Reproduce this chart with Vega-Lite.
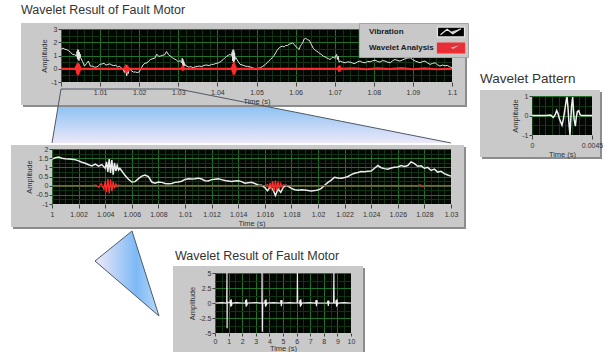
{
  "$schema": "https://vega.github.io/schema/vega-lite/v6.json",
  "padding": 0,
  "background": "white",
  "config": {
    "view": {"stroke": null},
    "font": "Liberation Sans",
    "axis": {"domain": false, "labelFontSize": 7, "labelColor": "#333333", "tickColor": "#444444", "tickSize": 3, "titleFontSize": 7.5, "titleFontWeight": "normal", "titleColor": "#333333", "labelFlush": false, "labelBound": false, "gridWidth": 1},
    "title": {"fontWeight": "normal", "color": "#333333", "anchor": "start", "frame": "group", "font": "Liberation Sans"}
  },
  "datasets": {
    "one": [{}],
    "topVib": [
      {"time":1,"amp":1.45},{"time":1.0005,"amp":1.56},{"time":1.001,"amp":1.47},{"time":1.0015,"amp":1.44},{"time":1.002,"amp":1.35},{"time":1.0025,"amp":1.22},{"time":1.003,"amp":1.08},{"time":1.0035,"amp":1.06},{"time":1.004,"amp":0.95},{"time":1.0041,"amp":1.3},{"time":1.0042,"amp":0.75},{"time":1.0043,"amp":1.45},{"time":1.0044,"amp":0.7},{"time":1.0045,"amp":1.4},{"time":1.0046,"amp":0.6},{"time":1.0047,"amp":1.25},{"time":1.0048,"amp":0.8},{"time":1.0049,"amp":1.1},{"time":1.005,"amp":0.85},{"time":1.0055,"amp":0.55},{"time":1.006,"amp":0.2},{"time":1.0065,"amp":0.38},{"time":1.007,"amp":0.58},{"time":1.0075,"amp":0.2},{"time":1.008,"amp":0.2},{"time":1.0085,"amp":0.12},{"time":1.009,"amp":0.12},{"time":1.0095,"amp":0.2},{"time":1.01,"amp":0.34},{"time":1.0105,"amp":0.36},{"time":1.011,"amp":0.41},{"time":1.0115,"amp":0.27},{"time":1.012,"amp":0.33},{"time":1.0125,"amp":0.37},{"time":1.013,"amp":0.28},{"time":1.0135,"amp":0.23},{"time":1.014,"amp":0.27},{"time":1.0145,"amp":0.13},{"time":1.015,"amp":0.19},{"time":1.0155,"amp":0.04},{"time":1.016,"amp":-0.1},{"time":1.0162,"amp":-0.28},{"time":1.0164,"amp":-0.08},{"time":1.0166,"amp":-0.2},{"time":1.0168,"amp":-0.54},{"time":1.017,"amp":-0.18},{"time":1.0172,"amp":-0.36},{"time":1.0174,"amp":-0.08},{"time":1.0176,"amp":0.02},{"time":1.018,"amp":-0.15},{"time":1.0185,"amp":-0.25},{"time":1.019,"amp":-0.24},{"time":1.0195,"amp":-0.29},{"time":1.02,"amp":-0.24},{"time":1.0205,"amp":0.02},{"time":1.021,"amp":0.3},{"time":1.0215,"amp":0.42},{"time":1.022,"amp":0.44},{"time":1.0225,"amp":0.6},{"time":1.023,"amp":0.72},{"time":1.0235,"amp":0.76},{"time":1.024,"amp":0.8},{"time":1.0245,"amp":1.1},{"time":1.025,"amp":0.93},{"time":1.0255,"amp":0.96},{"time":1.026,"amp":1.02},{"time":1.0265,"amp":1.05},{"time":1.027,"amp":1.3},{"time":1.0275,"amp":1.06},{"time":1.028,"amp":0.95},{"time":1.0285,"amp":0.83},{"time":1.029,"amp":0.74},{"time":1.0295,"amp":0.66},{"time":1.03,"amp":0.52},
      {"time":1.0305,"amp":0.62},{"time":1.0309,"amp":0.45},{"time":1.031,"amp":0.8},{"time":1.0311,"amp":0.15},{"time":1.0312,"amp":0.7},{"time":1.0313,"amp":0.05},{"time":1.0314,"amp":0.55},{"time":1.0315,"amp":0.2},{"time":1.0316,"amp":0.4},{"time":1.0318,"amp":0.25},{"time":1.0322,"amp":0.2},{"time":1.0327,"amp":0.12},{"time":1.0332,"amp":0.16},{"time":1.0338,"amp":0.08},{"time":1.0343,"amp":0.14},{"time":1.0349,"amp":0.18},{"time":1.0355,"amp":0.2},{"time":1.036,"amp":0.16},{"time":1.0366,"amp":0.26},{"time":1.0373,"amp":0.28},{"time":1.0379,"amp":0.24},{"time":1.0385,"amp":0.33},{"time":1.039,"amp":0.33},{"time":1.0396,"amp":0.4},{"time":1.0403,"amp":0.45},{"time":1.0409,"amp":0.55},{"time":1.0415,"amp":0.7},{"time":1.042,"amp":0.85},{"time":1.0424,"amp":0.95},{"time":1.0428,"amp":1.02},{"time":1.0432,"amp":1.08},{"time":1.0436,"amp":1.0},{"time":1.0438,"amp":1.3},{"time":1.0439,"amp":0.6},{"time":1.044,"amp":1.45},{"time":1.0441,"amp":0.45},{"time":1.0442,"amp":1.4},{"time":1.0443,"amp":0.55},{"time":1.0444,"amp":1.2},{"time":1.0445,"amp":0.7},{"time":1.0447,"amp":0.85},{"time":1.045,"amp":0.7},{"time":1.0454,"amp":0.5},{"time":1.0458,"amp":0.33},{"time":1.0464,"amp":0.28},{"time":1.0471,"amp":0.2},{"time":1.0477,"amp":0.18},{"time":1.0484,"amp":0.13},{"time":1.049,"amp":0.08},{"time":1.0497,"amp":-0.05},{"time":1.0503,"amp":0.02},{"time":1.051,"amp":0.08},{"time":1.0516,"amp":0.18},{"time":1.0523,"amp":0.33},{"time":1.0527,"amp":0.45},{"time":1.0531,"amp":0.58},{"time":1.0536,"amp":0.7},{"time":1.054,"amp":0.83},{"time":1.0545,"amp":1.0},{"time":1.0549,"amp":1.2},{"time":1.0553,"amp":1.4},{"time":1.0558,"amp":1.58},{"time":1.0562,"amp":1.66},{"time":1.0566,"amp":1.7},{"time":1.0571,"amp":1.65},{"time":1.0575,"amp":1.76},{"time":1.0579,"amp":1.75},{"time":1.0583,"amp":1.85},{"time":1.0588,"amp":1.9},{"time":1.0592,"amp":1.95},{"time":1.0596,"amp":1.85},{"time":1.06,"amp":1.7},{"time":1.0605,"amp":1.55},{"time":1.0609,"amp":1.45},{"time":1.0612,"amp":1.7},{"time":1.0615,"amp":1.83},{"time":1.0618,"amp":1.95},{"time":1.0622,"amp":2.25},{"time":1.0626,"amp":2.3},{"time":1.063,"amp":2.2},{"time":1.0635,"amp":2.15},{"time":1.064,"amp":1.85},{"time":1.0645,"amp":1.55},{"time":1.065,"amp":1.4},{"time":1.0654,"amp":1.33},{"time":1.0658,"amp":1.25},{"time":1.0662,"amp":1.15},{"time":1.0667,"amp":1.05},{"time":1.0671,"amp":0.95},{"time":1.0675,"amp":0.9},{"time":1.0679,"amp":0.83},{"time":1.0684,"amp":0.76},{"time":1.0688,"amp":0.7},{"time":1.0692,"amp":0.8},{"time":1.0696,"amp":0.9},{"time":1.07,"amp":0.78},{"time":1.0703,"amp":1.0},{"time":1.0705,"amp":1.08},{"time":1.0707,"amp":0.7},{"time":1.0709,"amp":0.95},{"time":1.0711,"amp":0.5},{"time":1.0714,"amp":0.58},{"time":1.072,"amp":0.5},{"time":1.0727,"amp":0.45},{"time":1.0733,"amp":0.52},{"time":1.074,"amp":0.5},{"time":1.0746,"amp":0.42},{"time":1.0752,"amp":0.4},{"time":1.0758,"amp":0.52},{"time":1.0765,"amp":0.58},{"time":1.0771,"amp":0.48},{"time":1.0778,"amp":0.45},{"time":1.0784,"amp":0.55},{"time":1.0791,"amp":0.53},{"time":1.0797,"amp":0.6},{"time":1.0803,"amp":0.65},{"time":1.081,"amp":0.55},{"time":1.0816,"amp":0.5},{"time":1.0822,"amp":0.62},{"time":1.0829,"amp":0.58},{"time":1.0835,"amp":0.5},{"time":1.0842,"amp":0.45},{"time":1.0848,"amp":0.6},{"time":1.0854,"amp":0.7},{"time":1.0861,"amp":0.62},{"time":1.0867,"amp":0.58},{"time":1.0873,"amp":0.66},{"time":1.088,"amp":0.75},{"time":1.0886,"amp":0.8},{"time":1.0893,"amp":0.83},{"time":1.0899,"amp":0.7},{"time":1.0906,"amp":0.58},{"time":1.0912,"amp":0.52},{"time":1.0918,"amp":0.45},{"time":1.0925,"amp":0.55},{"time":1.0931,"amp":0.58},{"time":1.0937,"amp":0.45},{"time":1.0944,"amp":0.33},{"time":1.095,"amp":0.4},{"time":1.0957,"amp":0.45},{"time":1.0963,"amp":0.3},{"time":1.0969,"amp":0.2},{"time":1.0976,"amp":0.28},{"time":1.0982,"amp":0.22},{"time":1.0988,"amp":0.25},{"time":1.0994,"amp":0.15},{"time":1.1,"amp":0.08}
    ],
    "topWav": [
      {"time":1,"amp":0},{"time":1.0036,"amp":0},{"time":1.0038,"amp":0.1},{"time":1.0039,"amp":-0.15},{"time":1.004,"amp":0.25},{"time":1.0041,"amp":-0.35},{"time":1.0042,"amp":0.42},{"time":1.0043,"amp":-0.48},{"time":1.0044,"amp":0.45},{"time":1.0045,"amp":-0.42},{"time":1.0046,"amp":0.35},{"time":1.0047,"amp":-0.28},{"time":1.0048,"amp":0.2},{"time":1.0049,"amp":-0.12},{"time":1.005,"amp":0.05},{"time":1.0052,"amp":0},
      {"time":1.0162,"amp":0},{"time":1.0164,"amp":0.12},{"time":1.0165,"amp":-0.2},{"time":1.0166,"amp":0.25},{"time":1.0167,"amp":-0.3},{"time":1.0168,"amp":0.3},{"time":1.0169,"amp":-0.28},{"time":1.017,"amp":0.24},{"time":1.0171,"amp":-0.18},{"time":1.0172,"amp":0.12},{"time":1.0173,"amp":-0.06},{"time":1.0175,"amp":0},
      {"time":1.0308,"amp":0},{"time":1.031,"amp":0.12},{"time":1.0311,"amp":-0.15},{"time":1.0312,"amp":0.15},{"time":1.0313,"amp":-0.12},{"time":1.0314,"amp":0.08},{"time":1.0316,"amp":0},
      {"time":1.0436,"amp":0},{"time":1.0438,"amp":0.15},{"time":1.0439,"amp":-0.25},{"time":1.044,"amp":0.35},{"time":1.0441,"amp":-0.45},{"time":1.0442,"amp":0.5},{"time":1.0443,"amp":-0.45},{"time":1.0444,"amp":0.38},{"time":1.0445,"amp":-0.3},{"time":1.0446,"amp":0.2},{"time":1.0447,"amp":-0.1},{"time":1.0449,"amp":0},
      {"time":1.0708,"amp":0},{"time":1.071,"amp":0.15},{"time":1.0711,"amp":-0.22},{"time":1.0712,"amp":0.25},{"time":1.0713,"amp":-0.2},{"time":1.0714,"amp":0.15},{"time":1.0716,"amp":0},
      {"time":1.075,"amp":0.03},{"time":1.078,"amp":-0.03},{"time":1.081,"amp":0.04},{"time":1.084,"amp":-0.02},{"time":1.087,"amp":0.05},{"time":1.09,"amp":-0.04},{"time":1.093,"amp":0.03},{"time":1.096,"amp":-0.03},{"time":1.1,"amp":0}
    ],
    "zoomBand": [
      {"time":0.9977,"amp":-5.6,"lo":-5.6},{"time":1.0,"amp":-1.53,"lo":-5.6},{"time":1.03,"amp":-1.53,"lo":-5.6},{"time":1.0997,"amp":-5.6,"lo":-5.6}
    ],
    "zoomEdge": [
      {"k":1,"time":0.9977,"amp":-5.6},{"k":2,"time":1.0,"amp":-1.53},{"k":3,"time":1.03,"amp":-1.53},{"k":4,"time":1.0997,"amp":-5.6}
    ],
    "midVib": [
      {"time":1,"amp":1.45},{"time":1.00025,"amp":1.52},{"time":1.0005,"amp":1.56},{"time":1.00075,"amp":1.5},{"time":1.001,"amp":1.47},{"time":1.00125,"amp":1.46},{"time":1.0015,"amp":1.44},{"time":1.00175,"amp":1.42},{"time":1.002,"amp":1.35},{"time":1.00225,"amp":1.28},{"time":1.0025,"amp":1.22},{"time":1.00275,"amp":1.14},{"time":1.003,"amp":1.08},{"time":1.00325,"amp":1.18},{"time":1.0035,"amp":1.06},{"time":1.00375,"amp":1.15},{"time":1.004,"amp":0.95},{"time":1.0041,"amp":1.3},{"time":1.0042,"amp":0.75},{"time":1.0043,"amp":1.45},{"time":1.0044,"amp":0.7},{"time":1.0045,"amp":1.4},{"time":1.0046,"amp":0.6},{"time":1.0047,"amp":1.25},{"time":1.0048,"amp":0.8},{"time":1.0049,"amp":1.1},{"time":1.005,"amp":0.85},{"time":1.0051,"amp":0.95},{"time":1.00525,"amp":0.8},{"time":1.0055,"amp":0.55},{"time":1.00575,"amp":0.35},{"time":1.006,"amp":0.2},{"time":1.00625,"amp":0.22},{"time":1.0065,"amp":0.38},{"time":1.00675,"amp":0.52},{"time":1.007,"amp":0.58},{"time":1.00725,"amp":0.5},{"time":1.0075,"amp":0.2},{"time":1.00775,"amp":0.14},{"time":1.008,"amp":0.2},{"time":1.00825,"amp":0.18},{"time":1.0085,"amp":0.12},{"time":1.00875,"amp":0.1},{"time":1.009,"amp":0.12},{"time":1.00925,"amp":0.18},{"time":1.0095,"amp":0.2},{"time":1.00975,"amp":0.24},{"time":1.01,"amp":0.34},{"time":1.01025,"amp":0.38},{"time":1.0105,"amp":0.36},{"time":1.01075,"amp":0.38},{"time":1.011,"amp":0.41},{"time":1.01125,"amp":0.36},{"time":1.0115,"amp":0.27},{"time":1.01175,"amp":0.26},{"time":1.012,"amp":0.33},{"time":1.01225,"amp":0.35},{"time":1.0125,"amp":0.37},{"time":1.01275,"amp":0.33},{"time":1.013,"amp":0.28},{"time":1.01325,"amp":0.26},{"time":1.0135,"amp":0.23},{"time":1.01375,"amp":0.25},{"time":1.014,"amp":0.27},{"time":1.01425,"amp":0.22},{"time":1.0145,"amp":0.13},{"time":1.01475,"amp":0.16},{"time":1.015,"amp":0.19},{"time":1.01525,"amp":0.12},{"time":1.0155,"amp":0.04},{"time":1.01575,"amp":0.02},{"time":1.016,"amp":-0.1},{"time":1.0162,"amp":-0.28},{"time":1.0164,"amp":-0.08},{"time":1.0166,"amp":-0.2},{"time":1.0168,"amp":-0.54},{"time":1.017,"amp":-0.18},{"time":1.0172,"amp":-0.36},{"time":1.0174,"amp":-0.08},{"time":1.0176,"amp":0.02},{"time":1.0178,"amp":-0.05},{"time":1.018,"amp":-0.15},{"time":1.01825,"amp":-0.22},{"time":1.0185,"amp":-0.25},{"time":1.01875,"amp":-0.22},{"time":1.019,"amp":-0.24},{"time":1.01925,"amp":-0.26},{"time":1.0195,"amp":-0.29},{"time":1.01975,"amp":-0.27},{"time":1.02,"amp":-0.24},{"time":1.02025,"amp":-0.15},{"time":1.0205,"amp":0.02},{"time":1.02075,"amp":0.18},{"time":1.021,"amp":0.3},{"time":1.02125,"amp":0.46},{"time":1.0215,"amp":0.42},{"time":1.02175,"amp":0.4},{"time":1.022,"amp":0.44},{"time":1.02225,"amp":0.5},{"time":1.0225,"amp":0.6},{"time":1.02275,"amp":0.68},{"time":1.023,"amp":0.72},{"time":1.02325,"amp":0.77},{"time":1.0235,"amp":0.76},{"time":1.02375,"amp":0.78},{"time":1.024,"amp":0.8},{"time":1.02425,"amp":0.95},{"time":1.0245,"amp":1.1},{"time":1.02475,"amp":0.98},{"time":1.025,"amp":0.93},{"time":1.02525,"amp":0.9},{"time":1.0255,"amp":0.96},{"time":1.02575,"amp":1.0},{"time":1.026,"amp":1.02},{"time":1.02625,"amp":1.1},{"time":1.0265,"amp":1.05},{"time":1.02675,"amp":1.1},{"time":1.027,"amp":1.3},{"time":1.02725,"amp":1.2},{"time":1.0275,"amp":1.06},{"time":1.02775,"amp":1.08},{"time":1.028,"amp":0.95},{"time":1.02825,"amp":1.0},{"time":1.0285,"amp":0.83},{"time":1.02875,"amp":0.9},{"time":1.029,"amp":0.74},{"time":1.02925,"amp":0.78},{"time":1.0295,"amp":0.66},{"time":1.02975,"amp":0.58},{"time":1.03,"amp":0.52}
    ],
    "midWav": [
      {"time":1,"amp":0},{"time":1.003,"amp":0},{"time":1.0033,"amp":0.03},{"time":1.0035,"amp":-0.08},{"time":1.0037,"amp":0.12},{"time":1.0039,"amp":-0.2},{"time":1.004,"amp":0.25},{"time":1.0041,"amp":-0.35},{"time":1.0042,"amp":0.38},{"time":1.0043,"amp":-0.42},{"time":1.0044,"amp":0.35},{"time":1.0045,"amp":-0.3},{"time":1.0046,"amp":0.22},{"time":1.0047,"amp":-0.15},{"time":1.0048,"amp":0.1},{"time":1.0049,"amp":-0.06},{"time":1.005,"amp":0.03},{"time":1.0052,"amp":0},
      {"time":1.016,"amp":0},{"time":1.0162,"amp":0.05},{"time":1.0163,"amp":-0.1},{"time":1.0164,"amp":0.15},{"time":1.0165,"amp":-0.22},{"time":1.0166,"amp":0.25},{"time":1.0167,"amp":-0.3},{"time":1.0168,"amp":0.28},{"time":1.0169,"amp":-0.25},{"time":1.017,"amp":0.22},{"time":1.0171,"amp":-0.18},{"time":1.0172,"amp":0.12},{"time":1.0173,"amp":-0.08},{"time":1.0174,"amp":0.05},{"time":1.0176,"amp":0},
      {"time":1.0275,"amp":0},{"time":1.0277,"amp":0.04},{"time":1.0278,"amp":-0.03},{"time":1.028,"amp":0},{"time":1.03,"amp":0}
    ],
    "pattern": [
      {"time":0,"amp":0},{"time":0.0005,"amp":0},{"time":0.001,"amp":0},{"time":0.0014,"amp":0.02},{"time":0.0016,"amp":-0.1},{"time":0.00175,"amp":0.05},{"time":0.00185,"amp":0.25},{"time":0.00195,"amp":0.1},{"time":0.00205,"amp":-0.15},{"time":0.00225,"amp":-0.5},{"time":0.00235,"amp":-0.2},{"time":0.00243,"amp":0.15},{"time":0.00255,"amp":0.7},{"time":0.00263,"amp":0.95},{"time":0.0027,"amp":0.4},{"time":0.00277,"amp":-0.4},{"time":0.00285,"amp":-1.0},{"time":0.0029,"amp":-0.3},{"time":0.00297,"amp":0.5},{"time":0.00305,"amp":0.95},{"time":0.0031,"amp":0.4},{"time":0.00316,"amp":-0.2},{"time":0.00325,"amp":-0.55},{"time":0.00332,"amp":-0.1},{"time":0.0034,"amp":0.2},{"time":0.0035,"amp":0.25},{"time":0.0036,"amp":0.05},{"time":0.0037,"amp":0},{"time":0.0045,"amp":0}
    ],
    "longRun": [
      {"time":0,"amp":0},{"time":0.5,"amp":0.05},{"time":0.86,"amp":0},{"time":0.88,"amp":5},{"time":0.89,"amp":-4.2},{"time":0.9,"amp":0.2},{"time":1.1,"amp":0},{"time":1.13,"amp":0.5},{"time":1.16,"amp":-0.6},{"time":1.19,"amp":0.6},{"time":1.22,"amp":-0.5},{"time":1.25,"amp":0},{"time":1.6,"amp":0.05},{"time":2.0,"amp":0},{"time":2.23,"amp":0},{"time":2.26,"amp":0.5},{"time":2.29,"amp":-0.6},{"time":2.32,"amp":0.6},{"time":2.35,"amp":-0.4},{"time":2.38,"amp":0},{"time":3.0,"amp":0.05},{"time":3.45,"amp":0},{"time":3.46,"amp":5},{"time":3.48,"amp":-4.8},{"time":3.5,"amp":0},{"time":3.66,"amp":0},{"time":3.69,"amp":0.5},{"time":3.72,"amp":-0.6},{"time":3.75,"amp":0.6},{"time":3.78,"amp":-0.4},{"time":3.81,"amp":0},{"time":4.3,"amp":0.05},{"time":4.82,"amp":0},{"time":4.85,"amp":0.5},{"time":4.88,"amp":-0.55},{"time":4.91,"amp":0.5},{"time":4.94,"amp":0},{"time":5.5,"amp":0.05},{"time":6.04,"amp":0},{"time":6.06,"amp":5},{"time":6.08,"amp":0},{"time":6.22,"amp":0},{"time":6.25,"amp":0.5},{"time":6.28,"amp":-0.6},{"time":6.31,"amp":0.6},{"time":6.34,"amp":-0.4},{"time":6.37,"amp":0},{"time":7.0,"amp":0.05},{"time":7.4,"amp":0},{"time":7.43,"amp":0.5},{"time":7.46,"amp":-0.55},{"time":7.49,"amp":0.5},{"time":7.52,"amp":0},{"time":8.27,"amp":0},{"time":8.3,"amp":0.4},{"time":8.33,"amp":-0.5},{"time":8.36,"amp":0.4},{"time":8.39,"amp":0},{"time":8.72,"amp":0},{"time":8.74,"amp":5},{"time":8.76,"amp":0},{"time":8.88,"amp":0},{"time":8.91,"amp":0.5},{"time":8.94,"amp":-0.6},{"time":8.97,"amp":0.6},{"time":9.0,"amp":-0.4},{"time":9.03,"amp":0},{"time":9.5,"amp":0.05},{"time":10,"amp":0}
    ],
    "callout": [
      {"time":-8.824,"amp":7.0,"lo":7.0},{"time":-6.103,"amp":12.0,"lo":1.7},{"time":-4.118,"amp":-2.167,"lo":-2.167}
    ],
    "calloutEdge": [
      {"k":1,"time":-8.824,"amp":7.0},{"k":2,"time":-6.103,"amp":12.0},{"k":3,"time":-4.118,"amp":-2.167},{"k":4,"time":-8.824,"amp":7.0}
    ]
  },
  "spacing": 11,
  "resolve": {"scale": {"color": "independent"}, "legend": {"color": "independent"}},
  "hconcat": [
    {
      "spacing": 0,
      "resolve": {"scale": {"color": "independent"}, "legend": {"color": "independent"}},
      "vconcat": [
        {
          "spacing": 0,
          "resolve": {"scale": {"color": "independent"}, "legend": {"color": "independent"}},
          "hconcat": [
            {"width": 21, "height": 1, "data": {"name": "one"}, "mark": {"type": "rect", "fill": "#ffffff", "opacity": 0}, "encoding": {"x": {"value": 0}, "x2": {"value": 21}, "y": {"value": -29}, "y2": {"value": 1}}},
            {
              "width": 391,
              "height": 53,
              "view": {"fill": "#020702", "stroke": null},
              "title": {"text": "Wavelet Result of Fault Motor", "fontSize": 12.5, "dx": -40, "offset": 6, "frame": "group", "anchor": "start"},
              "resolve": {"axis": {"x": "independent", "y": "independent"}},
              "layer": [
                {"data": {"name": "zoomBand"}, "mark": {"type": "area", "fill": {"gradient": "linear", "x1": 0, "y1": 0, "x2": 0, "y2": 1, "stops": [{"offset": 0, "color": "#7fb6ee"}, {"offset": 0.33, "color": "#8ec2f4"}, {"offset": 1, "color": "#ece8f8"}]}, "fillOpacity": 1},
                 "encoding": {"x": {"field": "time", "type": "quantitative", "scale": {"domain": [1, 1.1], "nice": false, "zero": false}, "axis": null}, "y": {"field": "amp", "type": "quantitative", "scale": {"domain": [-1, 3], "nice": false, "zero": false}, "axis": null}, "y2": {"field": "lo"}}},
                {"data": {"name": "one"}, "mark": {"type": "rect", "fill": "#8c8c8c"}, "encoding": {"x": {"value": 404}, "x2": {"value": 406}, "y": {"value": -4}, "y2": {"value": 78}}},
                {"data": {"name": "one"}, "mark": {"type": "rect", "fill": "#8c8c8c"}, "encoding": {"x": {"value": -38}, "x2": {"value": 406}, "y": {"value": 76}, "y2": {"value": 78}}},
                {"data": {"name": "one"}, "mark": {"type": "rect", "fill": "#c9c9c9"}, "encoding": {"x": {"value": -40}, "x2": {"value": 0}, "y": {"value": -6}, "y2": {"value": 76}}},
                {"data": {"name": "one"}, "mark": {"type": "rect", "fill": "#c9c9c9"}, "encoding": {"x": {"value": 391}, "x2": {"value": 404}, "y": {"value": -6}, "y2": {"value": 76}}},
                {"data": {"name": "one"}, "mark": {"type": "rect", "fill": "#c9c9c9"}, "encoding": {"x": {"value": 0}, "x2": {"value": 391}, "y": {"value": -6}, "y2": {"value": 0}}},
                {"data": {"name": "one"}, "mark": {"type": "rect", "fill": "#c9c9c9"}, "encoding": {"x": {"value": 0}, "x2": {"value": 391}, "y": {"value": 53}, "y2": {"value": 76}}},
                {"data": {"name": "one"}, "mark": {"type": "rect", "opacity": 0},
                 "encoding": {
                   "x": {"datum": 1, "type": "quantitative", "scale": {"domain": [1, 1.1], "nice": false, "zero": false},
                         "axis": {"orient": "bottom", "zindex": 0, "labels": false, "ticks": false, "domain": false, "title": null, "grid": true,
                                  "values": [1,1.002,1.004,1.006,1.008,1.01,1.012,1.014,1.016,1.018,1.02,1.022,1.024,1.026,1.028,1.03,1.032,1.034,1.036,1.038,1.04,1.042,1.044,1.046,1.048,1.05,1.052,1.054,1.056,1.058,1.06,1.062,1.064,1.066,1.068,1.07,1.072,1.074,1.076,1.078,1.08,1.082,1.084,1.086,1.088,1.09,1.092,1.094,1.096,1.098,1.1],
                                  "gridColor": {"condition": {"test": "abs(datum.value*100 - round(datum.value*100)) < 0.000001", "value": "#22702a"}, "value": "#0f3314"}}},
                   "x2": {"datum": 1.1},
                   "y": {"datum": -1, "type": "quantitative", "scale": {"domain": [-1, 3], "nice": false, "zero": false},
                         "axis": {"orient": "left", "zindex": 0, "labels": false, "ticks": false, "domain": false, "title": null, "grid": true,
                                  "values": [-1,-0.5,0,0.5,1,1.5,2,2.5,3],
                                  "gridColor": {"condition": {"test": "abs(datum.value - round(datum.value)) < 0.000001", "value": "#22702a"}, "value": "#0f3314"}}},
                   "y2": {"datum": 3}
                 }},
                {"data": {"name": "topVib"}, "mark": {"type": "line", "strokeWidth": 1},
                 "encoding": {
                   "x": {"field": "time", "type": "quantitative", "scale": {"domain": [1, 1.1], "nice": false, "zero": false},
                         "axis": {"orient": "bottom", "title": "Time (s)", "zindex": 1, "grid": false, "values": [1,1.01,1.02,1.03,1.04,1.05,1.06,1.07,1.08,1.09,1.1],
                                  "labelExpr": "datum.value > 1.005 ? '' + datum.value : ''", "tickSize": 4, "labelPadding": 2, "titlePadding": 2}},
                   "y": {"field": "amp", "type": "quantitative", "scale": {"domain": [-1, 3], "nice": false, "zero": false},
                         "axis": {"orient": "left", "title": "Amplitude", "zindex": 1, "grid": false, "values": [-1,0,1,2,3],
                                  "labelExpr": "'' + datum.value", "tickSize": 3, "labelPadding": 1, "titlePadding": 2}},
                   "color": {"datum": "Vibration", "type": "nominal", "scale": {"domain": ["Vibration", "Wavelet Analysis"], "range": ["#e6e6e6", "#ff2b2b"]},
                             "legend": {"title": null, "orient": "none", "legendX": 298, "legendY": -6, "fillColor": "#c8c8c8", "strokeColor": "#a5a5a5", "padding": 1, "rowPadding": 0,
                                        "labelFontSize": 8, "labelFontWeight": "bold", "labelColor": "#1a1a1a", "labelOffset": -90, "symbolOffset": 83, "symbolSize": 196,
                                        "symbolType": "M-1.93,-0.71H1.93V0.71H-1.93Z M-1.5,0.4L-0.55,-0.4L0.25,0.25L1.4,-0.45", "symbolStrokeWidth": 1.2, "zindex": 2,
                                        "encode": {"symbols": {"update": {"fill": [{"test": "datum.value === 'Wavelet Analysis'", "value": "#e0303a"}, {"value": "#000000"}], "stroke": [{"test": "datum.value === 'Wavelet Analysis'", "value": "#7a0a0a"}, {"value": "#e6e6e6"}]}}}}}
                 }},
                {"data": {"name": "topWav"}, "mark": {"type": "line", "strokeWidth": 2},
                 "encoding": {"x": {"field": "time", "type": "quantitative", "scale": {"domain": [1, 1.1], "nice": false, "zero": false}, "axis": null}, "y": {"field": "amp", "type": "quantitative", "scale": {"domain": [-1, 3], "nice": false, "zero": false}, "axis": null}, "color": {"datum": "Wavelet Analysis", "type": "nominal"}}},
                {"data": {"name": "zoomEdge"}, "mark": {"type": "line", "stroke": "#4e5866", "strokeWidth": 1},
                 "encoding": {"x": {"field": "time", "type": "quantitative", "scale": {"domain": [1, 1.1], "nice": false, "zero": false}, "axis": null}, "y": {"field": "amp", "type": "quantitative", "scale": {"domain": [-1, 3], "nice": false, "zero": false}, "axis": null}, "order": {"field": "k"}}}
              ]
            }
          ]
        },
        {
          "spacing": 0,
          "hconcat": [
            {"width": 11, "height": 1, "data": {"name": "one"}, "mark": {"type": "rect", "fill": "#ffffff", "opacity": 0}, "encoding": {"x": {"value": 0}, "x2": {"value": 11}, "y": {"value": 0}, "y2": {"value": 1}}},
            {
              "width": 399,
              "height": 55,
              "view": {"fill": "#020702", "stroke": null},
              "resolve": {"axis": {"x": "independent", "y": "independent"}},
              "layer": [
                {"data": {"name": "one"}, "mark": {"type": "rect", "fill": "#8c8c8c"}, "encoding": {"x": {"value": 412}, "x2": {"value": 414}, "y": {"value": -2}, "y2": {"value": 80}}},
                {"data": {"name": "one"}, "mark": {"type": "rect", "fill": "#8c8c8c"}, "encoding": {"x": {"value": -39}, "x2": {"value": 414}, "y": {"value": 78}, "y2": {"value": 80}}},
                {"data": {"name": "one"}, "mark": {"type": "rect", "fill": "#c9c9c9"}, "encoding": {"x": {"value": -41}, "x2": {"value": 0}, "y": {"value": -4}, "y2": {"value": 78}}},
                {"data": {"name": "one"}, "mark": {"type": "rect", "fill": "#c9c9c9"}, "encoding": {"x": {"value": 399}, "x2": {"value": 412}, "y": {"value": -4}, "y2": {"value": 78}}},
                {"data": {"name": "one"}, "mark": {"type": "rect", "fill": "#c9c9c9"}, "encoding": {"x": {"value": 0}, "x2": {"value": 399}, "y": {"value": -4}, "y2": {"value": 0}}},
                {"data": {"name": "one"}, "mark": {"type": "rect", "fill": "#c9c9c9"}, "encoding": {"x": {"value": 0}, "x2": {"value": 399}, "y": {"value": 55}, "y2": {"value": 78}}},
                {"data": {"name": "one"}, "mark": {"type": "rect", "opacity": 0},
                 "encoding": {
                   "x": {"datum": 1, "type": "quantitative", "scale": {"domain": [1, 1.03], "nice": false, "zero": false},
                         "axis": {"orient": "bottom", "zindex": 0, "labels": false, "ticks": false, "domain": false, "title": null, "grid": true,
                                  "values": [1,1.0005,1.001,1.0015,1.002,1.0025,1.003,1.0035,1.004,1.0045,1.005,1.0055,1.006,1.0065,1.007,1.0075,1.008,1.0085,1.009,1.0095,1.01,1.0105,1.011,1.0115,1.012,1.0125,1.013,1.0135,1.014,1.0145,1.015,1.0155,1.016,1.0165,1.017,1.0175,1.018,1.0185,1.019,1.0195,1.02,1.0205,1.021,1.0215,1.022,1.0225,1.023,1.0235,1.024,1.0245,1.025,1.0255,1.026,1.0265,1.027,1.0275,1.028,1.0285,1.029,1.0295,1.03],
                                  "gridColor": {"condition": {"test": "abs(datum.value*500 - round(datum.value*500)) < 0.000001", "value": "#22702a"}, "value": "#0f3314"}}},
                   "x2": {"datum": 1.03},
                   "y": {"datum": -1, "type": "quantitative", "scale": {"domain": [-1, 2], "nice": false, "zero": false},
                         "axis": {"orient": "left", "zindex": 0, "labels": false, "ticks": false, "domain": false, "title": null, "grid": true,
                                  "values": [-1,-0.75,-0.5,-0.25,0,0.25,0.5,0.75,1,1.25,1.5,1.75,2],
                                  "gridColor": {"condition": {"test": "abs(datum.value*2 - round(datum.value*2)) < 0.000001", "value": "#22702a"}, "value": "#0f3314"}}},
                   "y2": {"datum": 2}
                 }},
                {"data": {"name": "midVib"}, "mark": {"type": "line", "stroke": "#ececec", "strokeWidth": 1.5},
                 "encoding": {
                   "x": {"field": "time", "type": "quantitative", "scale": {"domain": [1, 1.03], "nice": false, "zero": false},
                         "axis": {"orient": "bottom", "title": "Time (s)", "zindex": 1, "grid": false, "values": [1,1.002,1.004,1.006,1.008,1.01,1.012,1.014,1.016,1.018,1.02,1.022,1.024,1.026,1.028,1.03],
                                  "labelExpr": "'' + datum.value", "tickSize": 4, "labelPadding": 2, "titlePadding": 2}},
                   "y": {"field": "amp", "type": "quantitative", "scale": {"domain": [-1, 2], "nice": false, "zero": false},
                         "axis": {"orient": "left", "title": "Amplitude", "zindex": 1, "grid": false, "values": [-1,-0.5,0,0.5,1,1.5,2],
                                  "labelExpr": "'' + datum.value", "tickSize": 3, "labelPadding": 1, "titlePadding": 2}}
                 }},
                {"data": {"name": "midWav"}, "mark": {"type": "line", "stroke": "#ff2b2b", "strokeWidth": 1.3},
                 "encoding": {"x": {"field": "time", "type": "quantitative", "scale": {"domain": [1, 1.03], "nice": false, "zero": false}, "axis": null}, "y": {"field": "amp", "type": "quantitative", "scale": {"domain": [-1, 2], "nice": false, "zero": false}, "axis": null}}}
              ]
            }
          ]
        },
        {
          "spacing": 0,
          "hconcat": [
            {"width": 92, "height": 1, "data": {"name": "one"}, "mark": {"type": "rect", "fill": "#ffffff", "opacity": 0}, "encoding": {"x": {"value": 0}, "x2": {"value": 92}, "y": {"value": 0}, "y2": {"value": 1}}},
            {
              "width": 136,
              "height": 60,
              "view": {"fill": "#020702", "stroke": null},
              "title": {"text": "Wavelet Result of Fault Motor", "fontSize": 12.5, "dx": -40, "offset": -33, "frame": "group", "anchor": "start"},
              "resolve": {"axis": {"x": "independent", "y": "independent"}},
              "layer": [
                {"data": {"name": "callout"}, "mark": {"type": "area", "fill": {"gradient": "linear", "x1": 0, "y1": 0, "x2": 1, "y2": 0, "stops": [{"offset": 0, "color": "#efeaf8"}, {"offset": 0.65, "color": "#7db9f5"}, {"offset": 1, "color": "#b9d9f8"}]}, "fillOpacity": 1},
                 "encoding": {"x": {"field": "time", "type": "quantitative", "scale": {"domain": [0, 10], "nice": false, "zero": false}, "axis": null}, "y": {"field": "amp", "type": "quantitative", "scale": {"domain": [-5, 5], "nice": false, "zero": false}, "axis": null}, "y2": {"field": "lo"}}},
                {"data": {"name": "calloutEdge"}, "mark": {"type": "line", "stroke": "#4e5866", "strokeWidth": 1},
                 "encoding": {"x": {"field": "time", "type": "quantitative", "scale": {"domain": [0, 10], "nice": false, "zero": false}, "axis": null}, "y": {"field": "amp", "type": "quantitative", "scale": {"domain": [-5, 5], "nice": false, "zero": false}, "axis": null}, "order": {"field": "k"}}},
                {"data": {"name": "one"}, "mark": {"type": "rect", "fill": "#8c8c8c"}, "encoding": {"x": {"value": 148}, "x2": {"value": 150}, "y": {"value": -5}, "y2": {"value": 82}}},
                {"data": {"name": "one"}, "mark": {"type": "rect", "fill": "#c9c9c9"}, "encoding": {"x": {"value": -42}, "x2": {"value": 0}, "y": {"value": -7}, "y2": {"value": 82}}},
                {"data": {"name": "one"}, "mark": {"type": "rect", "fill": "#c9c9c9"}, "encoding": {"x": {"value": 136}, "x2": {"value": 148}, "y": {"value": -7}, "y2": {"value": 82}}},
                {"data": {"name": "one"}, "mark": {"type": "rect", "fill": "#c9c9c9"}, "encoding": {"x": {"value": 0}, "x2": {"value": 136}, "y": {"value": -7}, "y2": {"value": 0}}},
                {"data": {"name": "one"}, "mark": {"type": "rect", "fill": "#c9c9c9"}, "encoding": {"x": {"value": 0}, "x2": {"value": 136}, "y": {"value": 60}, "y2": {"value": 82}}},
                {"data": {"name": "one"}, "mark": {"type": "rect", "opacity": 0},
                 "encoding": {
                   "x": {"datum": 0, "type": "quantitative", "scale": {"domain": [0, 10], "nice": false, "zero": false},
                         "axis": {"orient": "bottom", "zindex": 0, "labels": false, "ticks": false, "domain": false, "title": null, "grid": true,
                                  "values": [0,0.5,1,1.5,2,2.5,3,3.5,4,4.5,5,5.5,6,6.5,7,7.5,8,8.5,9,9.5,10],
                                  "gridColor": {"condition": {"test": "abs(datum.value - round(datum.value)) < 0.000001", "value": "#22702a"}, "value": "#0f3314"}}},
                   "x2": {"datum": 10},
                   "y": {"datum": -5, "type": "quantitative", "scale": {"domain": [-5, 5], "nice": false, "zero": false},
                         "axis": {"orient": "left", "zindex": 0, "labels": false, "ticks": false, "domain": false, "title": null, "grid": true,
                                  "values": [-5,-3.75,-2.5,-1.25,0,1.25,2.5,3.75,5],
                                  "gridColor": {"condition": {"test": "abs(datum.value/2.5 - round(datum.value/2.5)) < 0.000001", "value": "#22702a"}, "value": "#0f3314"}}},
                   "y2": {"datum": 5}
                 }},
                {"data": {"name": "longRun"}, "mark": {"type": "line", "stroke": "#f0f0f0", "strokeWidth": 1.2},
                 "encoding": {
                   "x": {"field": "time", "type": "quantitative", "scale": {"domain": [0, 10], "nice": false, "zero": false},
                         "axis": {"orient": "bottom", "title": "Time (s)", "zindex": 1, "grid": false, "values": [0,1,2,3,4,5,6,7,8,9,10],
                                  "labelExpr": "'' + datum.value", "tickSize": 3, "labelPadding": 1, "titlePadding": 0}},
                   "y": {"field": "amp", "type": "quantitative", "scale": {"domain": [-5, 5], "nice": false, "zero": false},
                         "axis": {"orient": "left", "title": "Amplitude", "zindex": 1, "grid": false, "values": [-5,-2.5,0,2.5,5],
                                  "labelExpr": "'' + datum.value", "tickSize": 3, "labelPadding": 1, "titlePadding": 2}}
                 }}
              ]
            }
          ]
        }
      ]
    },
    {
      "spacing": 0,
      "vconcat": [
        {"width": 1, "height": 42, "data": {"name": "one"}, "mark": {"type": "rect", "fill": "#ffffff", "opacity": 0}, "encoding": {"x": {"value": 0}, "x2": {"value": 1}, "y": {"value": 0}, "y2": {"value": 42}}},
        {
          "width": 60,
          "height": 39,
          "view": {"fill": "#020702", "stroke": null},
          "title": {"text": "Wavelet Pattern", "fontSize": 13.5, "dx": -52, "offset": 5, "frame": "group", "anchor": "start"},
          "resolve": {"axis": {"x": "independent", "y": "independent"}},
          "layer": [
            {"data": {"name": "one"}, "mark": {"type": "rect", "fill": "#8c8c8c"}, "encoding": {"x": {"value": 68}, "x2": {"value": 70}, "y": {"value": -4}, "y2": {"value": 63}}},
            {"data": {"name": "one"}, "mark": {"type": "rect", "fill": "#8c8c8c"}, "encoding": {"x": {"value": -50}, "x2": {"value": 70}, "y": {"value": 61}, "y2": {"value": 63}}},
            {"data": {"name": "one"}, "mark": {"type": "rect", "fill": "#c9c9c9"}, "encoding": {"x": {"value": -52}, "x2": {"value": 0}, "y": {"value": -6}, "y2": {"value": 61}}},
            {"data": {"name": "one"}, "mark": {"type": "rect", "fill": "#c9c9c9"}, "encoding": {"x": {"value": 60}, "x2": {"value": 68}, "y": {"value": -6}, "y2": {"value": 61}}},
            {"data": {"name": "one"}, "mark": {"type": "rect", "fill": "#c9c9c9"}, "encoding": {"x": {"value": 0}, "x2": {"value": 60}, "y": {"value": -6}, "y2": {"value": 0}}},
            {"data": {"name": "one"}, "mark": {"type": "rect", "fill": "#c9c9c9"}, "encoding": {"x": {"value": 0}, "x2": {"value": 60}, "y": {"value": 39}, "y2": {"value": 61}}},
            {"data": {"name": "one"}, "mark": {"type": "rect", "opacity": 0},
             "encoding": {
               "x": {"datum": 0, "type": "quantitative", "scale": {"domain": [0, 0.0045], "nice": false, "zero": false},
                     "axis": {"orient": "bottom", "zindex": 0, "labels": false, "ticks": false, "domain": false, "title": null, "grid": true,
                              "values": [0,0.0005,0.001,0.0015,0.002,0.0025,0.003,0.0035,0.004,0.0045], "gridColor": "#124016"}},
               "x2": {"datum": 0.0045},
               "y": {"datum": -1, "type": "quantitative", "scale": {"domain": [-1, 1], "nice": false, "zero": false},
                     "axis": {"orient": "left", "zindex": 0, "labels": false, "ticks": false, "domain": false, "title": null, "grid": true,
                              "values": [-1,-0.5,0,0.5,1],
                              "gridColor": {"condition": {"test": "abs(datum.value - round(datum.value)) < 0.000001", "value": "#22702a"}, "value": "#0f3314"}}},
               "y2": {"datum": 1}
             }},
            {"data": {"name": "pattern"}, "mark": {"type": "line", "stroke": "#f2f2f2", "strokeWidth": 1.5},
             "encoding": {
               "x": {"field": "time", "type": "quantitative", "scale": {"domain": [0, 0.0045], "nice": false, "zero": false},
                     "axis": {"orient": "bottom", "title": "Time (s)", "zindex": 1, "grid": false, "values": [0, 0.0045],
                              "labelExpr": "datum.value == 0 ? '0' : '0.0045'", "tickSize": 4, "labelPadding": 2, "titlePadding": 2}},
               "y": {"field": "amp", "type": "quantitative", "scale": {"domain": [-1, 1], "nice": false, "zero": false},
                     "axis": {"orient": "left", "title": "Amplitude", "zindex": 1, "grid": false, "values": [-1,0,1],
                              "labelExpr": "'' + datum.value", "tickSize": 3, "labelPadding": 1, "titlePadding": 2}}
             }}
          ]
        }
      ]
    }
  ]
}
